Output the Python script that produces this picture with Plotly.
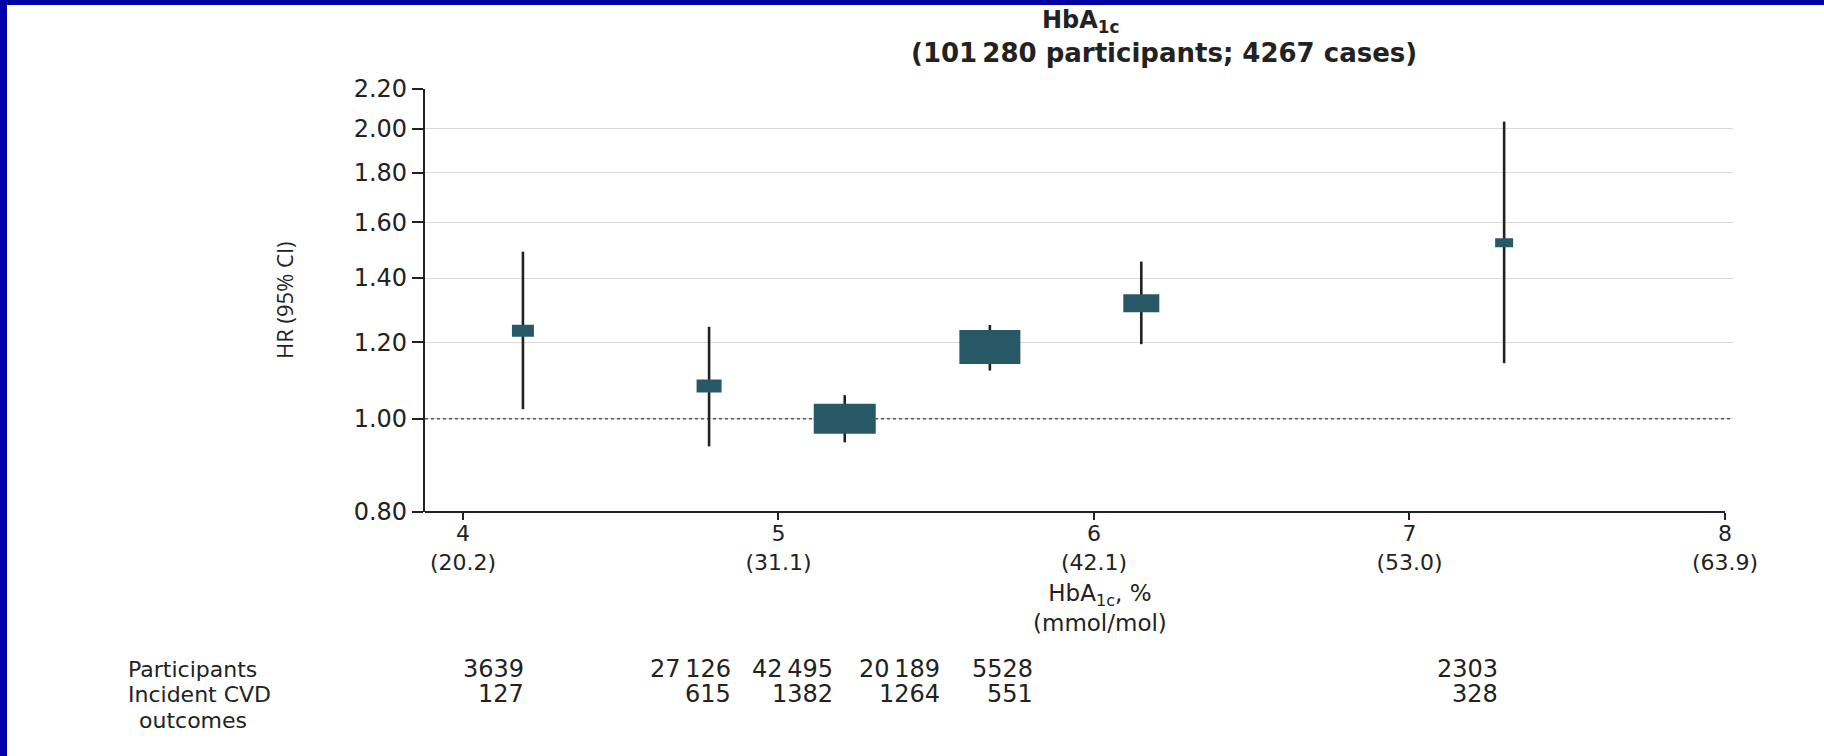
import math
import plotly.graph_objects as go

# HbA1c categories (%), hazard ratios and 95% CIs
hba1c_pct = [4.19, 4.78, 5.21, 5.67, 6.15, 7.30]
hr = [1.234, 1.081, 1.000, 1.187, 1.318, 1.523]
ci_low = [1.023, 0.936, 0.945, 1.122, 1.195, 1.142]
ci_high = [1.491, 1.246, 1.058, 1.251, 1.456, 2.035]

# at-risk table
participants = [3639, 27126, 42495, 20189, 5528, 2303]
cvd_outcomes = [127, 615, 1382, 1264, 551, 328]

# axis ticks
x_ticks = [4, 5, 6, 7, 8]
x_tick_mmol = ["20.2", "31.1", "42.1", "53.0", "63.9"]
y_ticks = [0.80, 1.00, 1.20, 1.40, 1.60, 1.80, 2.00, 2.20]

# box sizes in pixels (weight of each estimate)
box_w_px = [22, 25, 62, 61, 36, 18]
box_h_px = [12, 13, 30, 34, 18, 9]

W, H = 1824, 756
ML, MR, MT, MB = 425, 91, 89, 244
PW, PH = W - ML - MR, H - MT - MB

X_RANGE = [3.8796, 8.0254]
Y_MIN, Y_MAX = 0.80, 2.20
LOG_RANGE = [math.log10(Y_MIN), math.log10(Y_MAX)]
px_per_x = PW / (X_RANGE[1] - X_RANGE[0])
px_per_dec = PH / (LOG_RANGE[1] - LOG_RANGE[0])

BOX_COLOR = "#285866"
INK = "#222222"
FONT = "DejaVu Sans"
LABEL_FONT = "Open Sans"


def px_x(px):
    return (px - ML) / PW


def px_y(py):
    return (H - MB - py) / PH


def grouped(n):
    # thin-space grouping for five-digit counts and above
    return f"{n:,}".replace(",", "\u2009") if n >= 10000 else str(n)


fig = go.Figure()

# reference line at HR = 1
fig.add_trace(go.Scatter(
    x=X_RANGE, y=[1.0, 1.0], mode="lines",
    line=dict(color="#555555", width=1.5, dash="dot"),
    hoverinfo="skip", showlegend=False,
))

# confidence intervals
fig.add_trace(go.Scatter(
    x=hba1c_pct, y=hr, mode="markers",
    marker=dict(size=1, color="rgba(0,0,0,0)"),
    error_y=dict(
        type="data", symmetric=False,
        array=[h - c for c, h in zip(hr, ci_high)],
        arrayminus=[c - l for c, l in zip(hr, ci_low)],
        color=INK, thickness=2.6, width=0,
    ),
    showlegend=False,
))

# point-estimate boxes
bx, by = [], []
for xc, yc, wpx, hpx in zip(hba1c_pct, hr, box_w_px, box_h_px):
    dx = wpx / 2 / px_per_x
    fy = 10 ** (hpx / 2 / px_per_dec)
    bx += [xc - dx, xc + dx, xc + dx, xc - dx, xc - dx, None]
    by += [yc / fy, yc / fy, yc * fy, yc * fy, yc / fy, None]
fig.add_trace(go.Scatter(
    x=bx, y=by, mode="lines", fill="toself",
    fillcolor=BOX_COLOR, line=dict(width=0, color=BOX_COLOR),
    hoverinfo="skip", showlegend=False,
))

annotations = []


def note(text, px, py, anchor="left", size=22, family=FONT, **kw):
    annotations.append(dict(
        text=text, x=px_x(px), y=px_y(py), xref="paper", yref="paper",
        xanchor=anchor, yanchor="middle", showarrow=False,
        font=dict(family=family, size=size, color=INK, weight=kw.pop("weight", "normal")),
        **kw,
    ))


# title
note("HbA<sub>1c</sub>", 1080, 21, anchor="center", size=24, weight="bold")
note("(101\u2009280 participants; 4267 cases)", 1164, 53, anchor="center", size=26,
     weight="bold")

# y-axis title
note("HR (95% CI)", 284, 300, anchor="center", size=22, family=LABEL_FONT, textangle=-90)

# x-axis title
note("HbA<sub>1c</sub>, %<br>(mmol/mol)", 1100, 608, anchor="center", size=23)

# at-risk table
row_y = [669, 694]
col_right = [526, 733, 835, 942, 1035, 1500]
note("Participants", 126, row_y[0], size=22)
note("Incident CVD", 126, row_y[1], size=22)
note("outcomes", 137, 720, size=22)
for cx, p, c in zip(col_right, participants, cvd_outcomes):
    note(grouped(p), cx, row_y[0], anchor="right", size=24)
    note(str(c), cx, row_y[1], anchor="right", size=24)

shapes = [
    # white page inside the blue frame
    dict(type="rect", xref="paper", yref="paper", layer="below",
         x0=px_x(7), x1=px_x(W + 5), y0=px_y(H + 5), y1=px_y(5),
         fillcolor="white", line=dict(width=0)),
    # x-axis baseline ending at the last tick
    dict(type="line", xref="x", yref="paper", x0=X_RANGE[0], x1=x_ticks[-1], y0=0, y1=0,
         line=dict(color=INK, width=2.2)),
]

fig.update_layout(
    width=W, height=H,
    margin=dict(l=ML, r=MR, t=MT, b=MB, pad=0),
    paper_bgcolor="#0000AA", plot_bgcolor="white",
    annotations=annotations, shapes=shapes,
    showlegend=False,
    xaxis=dict(
        range=X_RANGE, tickmode="array", tickvals=x_ticks,
        ticktext=[f"{t}<br>({m})" for t, m in zip(x_ticks, x_tick_mmol)],
        ticks="outside", ticklen=7, tickwidth=2, tickcolor=INK,
        ticklabelstandoff=-5,
        showgrid=False, zeroline=False, showline=False,
        tickfont=dict(family=FONT, size=22, color=INK),
    ),
    yaxis=dict(
        type="log", range=LOG_RANGE, tickmode="array", tickvals=y_ticks,
        ticktext=[f"{v:.2f}" for v in y_ticks],
        ticks="outside", ticklen=11, tickwidth=2, tickcolor=INK,
        showline=True, linewidth=2.2, linecolor=INK,
        showgrid=True, gridcolor="#d9d9d9", gridwidth=1.2,
        zeroline=False,
        tickfont=dict(family=FONT, size=24, color=INK),
    ),
)

fig.write_html("out.html")
